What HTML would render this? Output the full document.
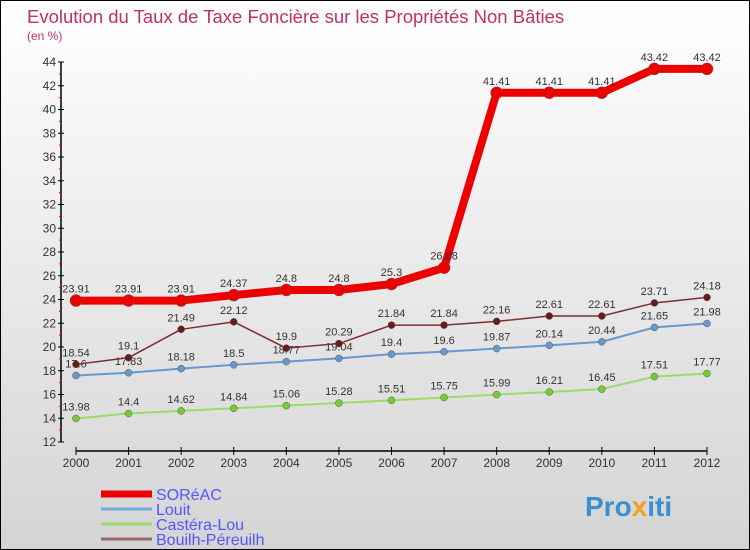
<!DOCTYPE html>
<html><head><meta charset="utf-8"><style>
body{margin:0;}
#c{width:748px;height:548px;border:1px solid #000;background:linear-gradient(#fff,#d4d4d4);position:relative;font-family:"Liberation Sans",sans-serif;overflow:hidden}
</style></head><body>
<div id="c">
<svg id="s" width="748" height="548" xmlns="http://www.w3.org/2000/svg" font-family="Liberation Sans, sans-serif">
<text x="26" y="22" font-size="18.5" fill="#c0306a">Evolution du Taux de Taxe Foncière sur les Propriétés Non Bâties</text>
<text x="26" y="39" font-size="12" fill="#c0306a">(en %)</text>
<g id="g"></g>
<text x="584" y="515" font-size="28" font-weight="bold" fill="#3a8fd0">Pro<tspan fill="#f0a020">x</tspan>iti</text>
</svg>
</div>
<script>
const years=["2000","2001","2002","2003","2004","2005","2006","2007","2008","2009","2010","2011","2012"];
const soreac=[23.91,23.91,23.91,24.37,24.8,24.8,25.3,26.68,41.41,41.41,41.41,43.42,43.42];
const louit=[17.6,17.83,18.18,18.5,18.77,19.04,19.4,19.6,19.87,20.14,20.44,21.65,21.98];
const castera=[13.98,14.4,14.62,14.84,15.06,15.28,15.51,15.75,15.99,16.21,16.45,17.51,17.77];
const bouilh=[18.54,19.1,21.49,22.12,19.9,20.29,21.84,21.84,22.16,22.61,22.61,23.71,24.18];
const yTicks=[12,14,16,18,20,22,24,26,28,30,32,34,36,38,40,42,44];
const NS="http://www.w3.org/2000/svg";
const g=document.getElementById('g');
function X(i){return 75+i*(631/12);}
function Y(v){return 441-(v-12)*(380/32);}
function el(t,a,p){const e=document.createElementNS(NS,t);for(const k in a)e.setAttribute(k,a[k]);(p||g).appendChild(e);return e;}
let ax=el('line',{x1:60,y1:61,x2:60,y2:441,stroke:'#000','stroke-width':1.5});


let xa=el('line',{x1:75,y1:450,x2:706,y2:450,stroke:'#000','stroke-width':1.5});


yTicks.forEach(v=>{
 el('line',{x1:57,y1:Y(v),x2:63,y2:Y(v),stroke:'#000'});
 if(v<44)el('line',{x1:58,y1:Y(v+1),x2:61,y2:Y(v+1),stroke:'#e00'});
 const t=el('text',{x:55,y:Y(v)+4,'font-size':12,'text-anchor':'end',fill:'#333'});
 t.textContent=v;
 
 
});
years.forEach((y,i)=>{
 el('line',{x1:X(i),y1:446,x2:X(i),y2:454,stroke:'#000'});
 const t=el('text',{x:X(i),y:466,'font-size':12,'text-anchor':'middle',fill:'#333'});
 t.textContent=y;
 
 
});
function series(d,col,w,r,name,dot){
 const p=el('polyline',{points:d.map((v,i)=>X(i)+','+Y(v)).join(' '),fill:'none',stroke:col,'stroke-width':w,'stroke-linejoin':'round'});
 
 
 d.forEach((v,i)=>{
  const c=el('circle',{cx:X(i),cy:Y(v),r:r,fill:dot,stroke:'#555','stroke-width':0.5});
  
  
  const t=el('text',{x:X(i),y:Y(v)-8,'font-size':11,'text-anchor':'middle',fill:'#333'});
  t.textContent=v;
  
  
 });
}
series(castera,'#99dd66',2,3.5,'castera-lou','#77cc33');
series(louit,'#6699cc',2,3.5,'louit','#6699cc');
series(bouilh,'#7a3030',1.5,3.5,'bouilh-pereuilh','#6a1a1a');
series(soreac,'#ee0000',8,6,'soreac','#ee0000');
const names=["SORéAC","Louit","Castéra-Lou","Bouilh-Péreuilh"];
const cols=['#ee0000','#77aadd','#99dd66','#996666'];
const ws=[7,3,3,3];
names.forEach((n,i)=>{
 const y=493+i*15;
 const l=el('line',{x1:100,y1:y,x2:151,y2:y,stroke:cols[i],'stroke-width':ws[i]});
 
 
 const t=el('text',{x:155,y:y+6,'font-size':16,fill:'#5555ff'});
 t.textContent=n;
 
 
});
</script>
</body></html>
